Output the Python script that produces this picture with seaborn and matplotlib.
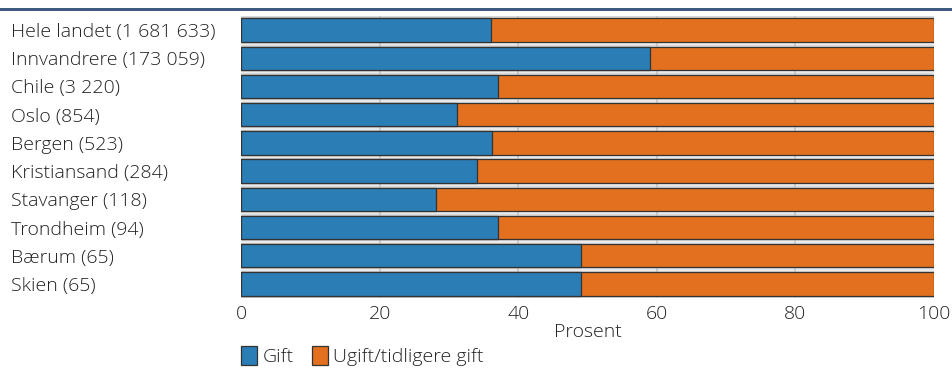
import matplotlib
matplotlib.use("Agg")
import matplotlib.pyplot as plt
import seaborn as sns
import pandas as pd
from matplotlib.patches import Rectangle, Patch

categories = ["Hele landet (1 681 633)", "Innvandrere (173 059)", "Chile (3 220)",
              "Oslo (854)", "Bergen (523)", "Kristiansand (284)", "Stavanger (118)",
              "Trondheim (94)", "Bærum (65)", "Skien (65)"]
gift = [36.1, 59.0, 37.1, 31.1, 36.2, 34.1, 28.1, 37.1, 49.1, 49.1]
ugift = [63.9, 41.0, 62.9, 68.9, 63.8, 65.9, 71.9, 62.9, 50.9, 50.9]
series_names = ["Gift", "Ugift/tidligere gift"]
xticks = [0, 20, 40, 60, 80, 100]
xlabel = "Prosent"

BLUE = "#2a7db5"
ORANGE = "#e3701e"
FS = 14

sns.set_style("white")
plt.rcParams["font.family"] = ["Open Sans", "DejaVu Sans"]
plt.rcParams["font.weight"] = "light"
plt.rcParams["axes.labelweight"] = "light"

df = pd.DataFrame({"cat": categories, "gift": gift, "ugift": ugift})
df["total"] = df["gift"] + df["ugift"]

fig = plt.figure(figsize=(9.52, 3.8), dpi=100)
ax = fig.add_axes([241/952, 1-298/380, (934-241)/952, (298-16)/380])
ax.set_facecolor("#d9d9d9")

sns.barplot(data=df, x="total", y="cat", color=ORANGE, saturation=1, width=0.83,
            edgecolor="#333333", linewidth=0.9, ax=ax, zorder=3)
sns.barplot(data=df, x="gift", y="cat", color=BLUE, saturation=1, width=0.83,
            edgecolor="#333333", linewidth=0.9, ax=ax, zorder=4)

ax.set_xlim(0, 100)
ax.set_ylim(len(categories) - 0.5, -0.5)
for i in range(len(categories) - 1):
    ax.axhline(i + 0.5, color="#eeeeee", lw=1.2, zorder=1)
for t in xticks[1:-1]:
    ax.axvline(t, color="#c4c4c4", lw=1.2, zorder=2)

for s in ax.spines.values():
    s.set_visible(False)

ax.set_xticks(xticks)
ax.set_xticklabels([str(t) for t in xticks])
ax.tick_params(axis="x", length=0, pad=5, labelsize=FS, colors="#222222")
ax.tick_params(axis="y", length=0, pad=(241-11)/100*72, labelsize=FS, colors="#222222")
for lab in ax.get_yticklabels():
    lab.set_ha("left")
ax.set_ylabel("")
ax.set_xlabel(xlabel, fontsize=FS, fontweight="light", color="#222222", labelpad=0)

handles = [Patch(facecolor=BLUE, edgecolor="#333333", lw=0.9),
           Patch(facecolor=ORANGE, edgecolor="#333333", lw=0.9)]
fig.legend(handles, series_names, loc="center left", bbox_to_anchor=(241/952, 1-356/380),
           ncol=2, frameon=False, fontsize=FS, handlelength=0.8, handleheight=1.15,
           handletextpad=0.3, columnspacing=0.95, borderpad=0, borderaxespad=0,
           labelcolor="#222222")

fig.add_artist(Rectangle((0, 1-11/380), 1, 3/380, transform=fig.transFigure,
                         facecolor="#3f5a82", edgecolor="none"))

fig.savefig("out.png", dpi=100)
